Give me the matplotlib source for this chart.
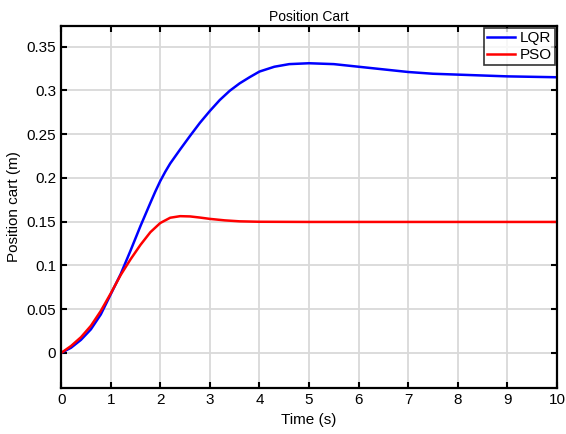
import numpy as np
import matplotlib
matplotlib.use("Agg")
import matplotlib.pyplot as plt
from matplotlib.ticker import FuncFormatter

plt.rcParams['font.family'] = ['Liberation Sans', 'DejaVu Sans']

# values
t_lqr = [0, 0.2, 0.4, 0.6, 0.8, 1.0, 1.2, 1.4, 1.6, 1.8, 1.9, 2.0, 2.1, 2.2,
         2.4, 2.6, 2.8, 3.0, 3.2, 3.4, 3.6, 3.8, 4.0, 4.3, 4.6, 5.0, 5.5, 6.0,
         6.5, 7.0, 7.5, 8.0, 8.5, 9.0, 9.5, 10.0]
pos_lqr = [0, 0.006, 0.015, 0.027, 0.044, 0.067, 0.090, 0.117, 0.145, 0.1715,
           0.1845, 0.1965, 0.207, 0.2165, 0.2325, 0.248, 0.263, 0.2765, 0.289,
           0.2995, 0.308, 0.315, 0.3215, 0.327, 0.330, 0.331, 0.330, 0.327,
           0.324, 0.321, 0.319, 0.318, 0.317, 0.316, 0.3155, 0.315]

t_pso = [0, 0.2, 0.4, 0.6, 0.8, 1.0, 1.2, 1.4, 1.6, 1.8, 2.0, 2.2, 2.4, 2.6,
         2.8, 3.0, 3.3, 3.6, 4.0, 5.0, 6.0, 8.0, 10.0]
pos_pso = [0, 0.008, 0.018, 0.031, 0.048, 0.068, 0.089, 0.107, 0.1235, 0.138,
           0.1485, 0.1545, 0.1563, 0.156, 0.1547, 0.1532, 0.1515, 0.1504,
           0.1499, 0.1497, 0.1497, 0.1497, 0.1497]

fig = plt.figure(figsize=(5.66, 4.34), dpi=100)
ax = fig.add_axes([0.108, 0.105, 0.876, 0.836])

ax.plot(t_lqr, pos_lqr, color='#0000ff', lw=1.8, label='LQR')
ax.plot(t_pso, pos_pso, color='#ff0000', lw=1.8, label='PSO')

ax.set_xlim(0, 10)
ax.set_ylim(-0.0405, 0.374)
ax.set_xticks(np.arange(0, 11, 1))
ax.set_yticks(np.arange(0, 0.36, 0.05))
ax.yaxis.set_major_formatter(FuncFormatter(lambda v, p: '%g' % round(v, 3)))
ax.grid(True, color='#d9d9d9', lw=1.3)
ax.set_axisbelow(True)
ax.tick_params(direction='in', top=True, right=True, length=4, width=1.5,
               labelsize=11, colors='black')
for s in ax.spines.values():
    s.set_linewidth(1.6)

ax.set_title('Position Cart', fontsize=10, pad=3)
ax.set_xlabel('Time (s)', fontsize=11)
ax.set_ylabel('Position cart (m)', fontsize=11)

leg = ax.legend(loc='upper right', fontsize=11, frameon=True, fancybox=False,
                edgecolor='black', handlelength=1.8, borderaxespad=0.15,
                borderpad=0.2, labelspacing=0.2, handletextpad=0.3)
leg.get_frame().set_linewidth(1.2)

fig.savefig('out.png', dpi=100)
